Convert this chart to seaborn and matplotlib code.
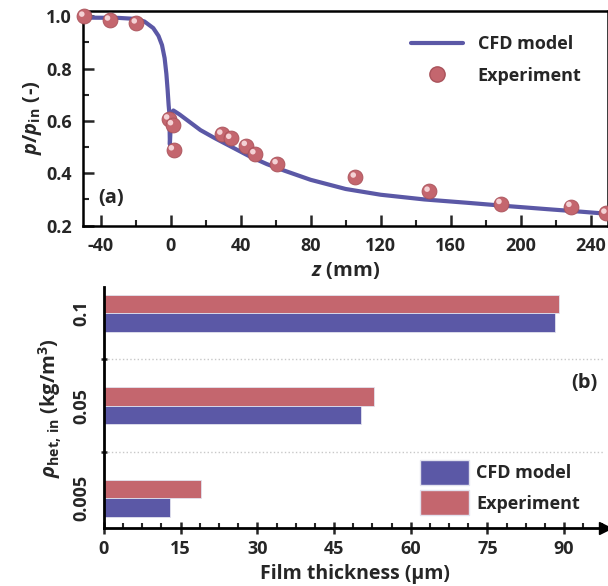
import numpy as np
import pandas as pd
import matplotlib
matplotlib.use("Agg")
import matplotlib.pyplot as plt
import seaborn as sns
from matplotlib.ticker import MultipleLocator, FixedLocator, FormatStrFormatter
from matplotlib.lines import Line2D
from matplotlib.patches import Patch
import matplotlib.transforms as mtransforms

# ---- data: panel (a) ----
cfd_z = [-50, -30, -20, -15, -10, -7, -5, -3.5, -2.5, -1.8, -1.2, -0.8, -0.5, 0.3, 1.5,
         5, 10, 15, 17, 25, 35, 45, 55, 65, 80, 100, 120, 145, 170, 190, 215, 235, 250]
cfd_p = [0.995, 0.994, 0.99, 0.98, 0.955, 0.925, 0.89, 0.84, 0.78, 0.72, 0.66, 0.63, 0.51, 0.63, 0.64,
         0.625, 0.60, 0.575, 0.565, 0.535, 0.50, 0.465, 0.435, 0.41, 0.375, 0.34, 0.318, 0.30, 0.287,
         0.276, 0.263, 0.253, 0.245]
exp_z = [-49.6, -34.9, -19.6, -1.1, 1.1, 1.6, 29.3, 34.4, 43.3, 48.2, 60.9, 105.6, 147.8, 188.9, 228.9, 248.9]
exp_p = [1.0, 0.985, 0.974, 0.607, 0.585, 0.489, 0.549, 0.533, 0.506, 0.474, 0.436, 0.385, 0.331, 0.284, 0.273, 0.247]

# ---- data: panel (b) ----
densities = ["0.1", "0.05", "0.005"]
film_cfd = [88.2, 50.2, 13.0]
film_exp = [89.1, 52.8, 18.9]
series_names = ["CFD model", "Experiment"]

BLUE = "#5b58a6"
RED = "#c4666e"
FONT = "Open Sans"

sns.set_style("ticks")
plt.rcParams["font.family"] = [FONT, "DejaVu Sans"]
plt.rcParams["font.weight"] = "bold"
plt.rcParams["axes.labelweight"] = "bold"
plt.rcParams["axes.unicode_minus"] = False
plt.rcParams["mathtext.fontset"] = "custom"
plt.rcParams["mathtext.rm"] = FONT + ":bold"
plt.rcParams["mathtext.it"] = FONT + ":italic:bold"
plt.rcParams["mathtext.bf"] = FONT + ":bold"

fig = plt.figure(figsize=(6.08, 5.86), dpi=100)
ax1 = fig.add_axes([0.137, 0.615, 0.863, 0.367])
ax2 = fig.add_axes([0.171, 0.099, 0.824, 0.411])

# ---------- panel (a) ----------
sns.lineplot(x=cfd_z, y=cfd_p, ax=ax1, color=BLUE, lw=3, sort=False, estimator=None, zorder=2)
sns.scatterplot(x=exp_z, y=exp_p, ax=ax1, s=115, color=RED, edgecolor="#a9525a",
                linewidth=0.6, zorder=3, clip_on=False)
hl = mtransforms.offset_copy(ax1.transData, fig=fig, x=-2.2, y=2.2, units="dots")
sns.scatterplot(x=exp_z, y=exp_p, ax=ax1, s=16, color="#f4d2d5", edgecolor="none",
                zorder=4, transform=hl, clip_on=False)

ax1.set_xlim(-50, 250)
ax1.set_ylim(0.2, 1.022)
ax1.xaxis.set_major_locator(FixedLocator([-40, 0, 40, 80, 120, 160, 200, 240]))
ax1.xaxis.set_minor_locator(MultipleLocator(20))
ax1.yaxis.set_major_locator(MultipleLocator(0.2))
ax1.yaxis.set_minor_locator(MultipleLocator(0.1))
ax1.tick_params(axis="both", which="major", direction="in", length=8, width=1.8, labelsize=13)
ax1.tick_params(axis="both", which="minor", direction="in", length=4.5, width=1.5)
ax1.tick_params(axis="x", which="major", pad=8)
ax1.tick_params(axis="y", which="major", pad=8)
ax1.yaxis.set_major_formatter(FormatStrFormatter("%.1f"))
for s in ax1.spines.values():
    s.set_linewidth(1.8)
    s.set_color("black")
ax1.set_xlabel(r"$z$ (mm)", fontsize=14.5, labelpad=4)
ax1.set_ylabel(r"$p/p_{\mathrm{in}}$ (-)", fontsize=14.5, labelpad=2)
ax1.text(0.052, 0.13, "(a)", transform=ax1.transAxes, fontsize=14.5, fontweight="bold",
         ha="center", va="center")

h1 = Line2D([], [], color=BLUE, lw=3)
h2 = Line2D([], [], ls="none", marker="o", ms=11, mfc=RED, mec="#a9525a")
ax1.legend([h1, h2], series_names, loc="upper left",
           bbox_to_anchor=(411 / 608, 1 - 35 / 586), bbox_transform=fig.transFigure,
           frameon=False, borderpad=0, borderaxespad=0, handlelength=2.9,
           handletextpad=0.8, labelspacing=0.75, prop={"size": 13, "weight": "bold"})

# ---------- panel (b) ----------
df = pd.DataFrame({
    "density": densities * 2,
    "series": [series_names[0]] * 3 + [series_names[1]] * 3,
    "thickness": film_cfd + film_exp,
})
sns.barplot(data=df, x="thickness", y="density", hue="series", order=densities,
            hue_order=["Experiment", "CFD model"], palette={"CFD model": BLUE, "Experiment": RED},
            orient="h", width=0.4, saturation=1, ax=ax2, legend=False,
            edgecolor="#e2e2ee", linewidth=0.6)

ax2.set_xlim(0, 98)
ax2.set_ylim(2.32, -0.28)
ax2.xaxis.set_major_locator(MultipleLocator(15))
ax2.xaxis.set_minor_locator(MultipleLocator(3.75))
ax2.yaxis.set_minor_locator(FixedLocator([0.5, 1.5]))
ax2.tick_params(axis="x", which="major", direction="inout", length=8, width=1.8, labelsize=13, pad=5)
ax2.tick_params(axis="x", which="minor", direction="in", length=3.5, width=1.5)
ax2.tick_params(axis="y", which="major", length=0, labelsize=13, pad=10)
ax2.tick_params(axis="y", which="minor", direction="inout", length=5, width=1.8)
for lab in ax2.get_yticklabels():
    lab.set_rotation(90)
    lab.set_va("center")
ax2.grid(axis="y", which="minor", ls=":", color="#c8c8c8", lw=1)
ax2.grid(axis="y", which="major", visible=False)
ax2.grid(axis="x", visible=False)
sns.despine(ax=ax2, top=True, right=True)
for side in ("left", "bottom"):
    ax2.spines[side].set_linewidth(2)
    ax2.spines[side].set_color("black")
ax2.plot(1, 0, ">k", ms=9, transform=ax2.transAxes, clip_on=False)
ax2.set_xlabel("Film thickness (μm)", fontsize=14, labelpad=4)
ax2.set_ylabel(r"$\rho_{\mathrm{het,\,in}}$ (kg/m$^{\mathrm{3}}$)", fontsize=14.5, labelpad=6)
ax2.text(0.985, 0.60, "(b)", transform=ax2.transAxes, fontsize=14.5, fontweight="bold",
         ha="right", va="center")

p1 = Patch(facecolor=BLUE, edgecolor="#e2e2ee")
p2 = Patch(facecolor=RED, edgecolor="#e2e2ee")
ax2.legend([p1, p2], series_names, loc="upper left",
           bbox_to_anchor=(420 / 608, 1 - 460 / 586), bbox_transform=fig.transFigure,
           frameon=False, borderpad=0, borderaxespad=0, handlelength=2.7, handleheight=1.75,
           handletextpad=0.4, labelspacing=0.3, prop={"size": 13, "weight": "bold"})

fig.savefig("out.png", dpi=100)
